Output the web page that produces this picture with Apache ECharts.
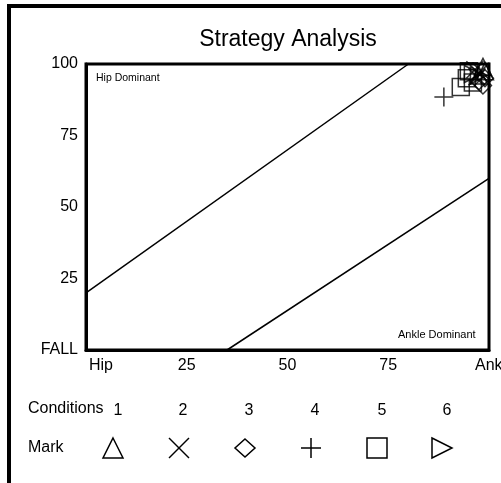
<!DOCTYPE html>
<html><head><meta charset="utf-8">
<script src="https://cdn.jsdelivr.net/npm/echarts@6/dist/echarts.min.js"></script>
<style>html,body{margin:0;padding:0;background:#fff}#c{width:501px;height:483px}</style>
</head><body><div id="c"></div>
<script>
var xTicks = {0:'Hip',25:'25',50:'50',75:'75',100:'Ankle'};
var yTicks = {0:'FALL',25:'25',50:'50',75:'75',100:'100'};
var conditions = ['1','2','3','4','5','6'];
var c1 = [[98.5,99],[99,97.5],[97.5,96]];
var c2 = [[97,95.5],[98,97.5],[96.5,98]];
var c3 = [[98.5,92.5],[99,95],[97.5,94]];
var c4 = [[88.8,88.5]];
var c5 = [[93,92],[94.5,95],[96,93.5],[95,97.5]];
var c6 = [[97.5,96],[96,96.5]];
var upperLine = [[0,20],[80,100]];
var lowerLine = [[35,0],[100,60]];

var FONT = '"Liberation Sans", Arial, sans-serif';
var XPATH = 'path://M0,0L10,10M10,0L0,10';
var PPATH = 'path://M5,0L5,10M0,5L10,5';
var symbols = [
  {symbol:'triangle', rotate:0},
  {symbol:XPATH, rotate:0},
  {symbol:'diamond', rotate:0},
  {symbol:PPATH, rotate:0},
  {symbol:'rect', rotate:0},
  {symbol:'triangle', rotate:-90}
];
var seriesData = [c1,c2,c3,c4,c5,c6];
var series = [];
seriesData.forEach(function(d,i){
  series.push({
    type:'scatter', name:conditions[i], data:d,
    symbol:symbols[i].symbol, symbolRotate:symbols[i].rotate,
    symbolSize: i===3 ? 19 : 17,
    clip:false,
    itemStyle:{color:'rgba(0,0,0,0)', borderColor:'#000', borderWidth:1.5},
    emphasis:{disabled:true}, z:5
  });
});
[upperLine, lowerLine].forEach(function(d){
  series.push({type:'line', data:d, symbol:'none', lineStyle:{color:'#000', width:1.5}, z:3, silent:true});
});

var graphics = [
  {type:'line', shape:{x1:9, y1:4, x2:9, y2:483}, style:{stroke:'#000', lineWidth:4}},
  {type:'line', shape:{x1:7, y1:6, x2:501, y2:6}, style:{stroke:'#000', lineWidth:4}},
  {type:'text', left:96, top:73, style:{text:'Hip Dominant', font:'10.5px '+FONT, fill:'#000'}},
  {type:'text', left:398, top:329, style:{text:'Ankle Dominant', font:'11px '+FONT, fill:'#000'}},
  {type:'text', left:28, top:401, style:{text:'Conditions', font:'16px '+FONT, fill:'#000'}},
  {type:'text', left:28, top:440, style:{text:'Mark', font:'16px '+FONT, fill:'#000'}}
];
var numX = [118,183,249,315,382,447];
var symX = [113,179,245,311,377,442];
conditions.forEach(function(c,i){
  graphics.push({type:'text', x:numX[i], y:411, style:{text:c, font:'16px '+FONT, fill:'#000', align:'center', verticalAlign:'middle'}});
});
var sy = 448, h = 10;
var st = {stroke:'#000', lineWidth:1.5, fill:'none'};
graphics.push({type:'polygon', shape:{points:[[symX[0],sy-h],[symX[0]+h,sy+h],[symX[0]-h,sy+h]]}, style:st});
graphics.push({type:'line', shape:{x1:symX[1]-h,y1:sy-h,x2:symX[1]+h,y2:sy+h}, style:st});
graphics.push({type:'line', shape:{x1:symX[1]+h,y1:sy-h,x2:symX[1]-h,y2:sy+h}, style:st});
graphics.push({type:'polygon', shape:{points:[[symX[2],sy-9],[symX[2]+10,sy],[symX[2],sy+9],[symX[2]-10,sy]]}, style:st});
graphics.push({type:'line', shape:{x1:symX[3]-h,y1:sy,x2:symX[3]+h,y2:sy}, style:st});
graphics.push({type:'line', shape:{x1:symX[3],y1:sy-h,x2:symX[3],y2:sy+h}, style:st});
graphics.push({type:'rect', shape:{x:symX[4]-h,y:sy-h,width:2*h,height:2*h}, style:st});
graphics.push({type:'polygon', shape:{points:[[symX[5]-h,sy-h],[symX[5]+h,sy],[symX[5]-h,sy+h]]}, style:st});

var chart = echarts.init(document.getElementById('c'), null, {renderer:'canvas'});
chart.setOption({
  animation:false,
  backgroundColor:'#fff',
  title:{text:'Strategy Analysis', left:283, top:23, textAlign:'center',
    textStyle:{fontFamily:FONT, fontSize:23, fontWeight:'normal', color:'#000'}},
  grid:{left:86, top:64, right:12, bottom:133, outerBoundsMode:'none', containLabel:false,
    show:true, borderColor:'#000', borderWidth:3, backgroundColor:'transparent'},
  xAxis:{type:'value', min:0, max:100, interval:25,
    axisLine:{show:true, lineStyle:{color:'#000', width:3}},
    axisTick:{show:false}, splitLine:{show:false},
    axisLabel:{color:'#000', fontFamily:FONT, fontSize:16, margin:8, alignMinLabel:'left', hideOverlap:false,
      formatter:function(v){
        if (v===0) return '{h|Hip}';
        if (v===100) return '{a|Ankle}';
        return xTicks[v]!==undefined ? xTicks[v] : '';
      },
      rich:{h:{fontFamily:FONT, fontSize:16, color:'#000', padding:[0,0,0,3]},
            a:{fontFamily:FONT, fontSize:16, color:'#000', padding:[0,0,0,12]}}}},
  yAxis:{type:'value', min:0, max:100, interval:25,
    axisLine:{show:true, lineStyle:{color:'#000', width:3}},
    axisTick:{show:false}, splitLine:{show:false},
    axisLabel:{color:'#000', fontFamily:FONT, fontSize:16, margin:8,
      formatter:function(v){ return yTicks[v]!==undefined ? yTicks[v] : ''; }}},
  series:series,
  graphic:graphics
});
</script></body></html>
